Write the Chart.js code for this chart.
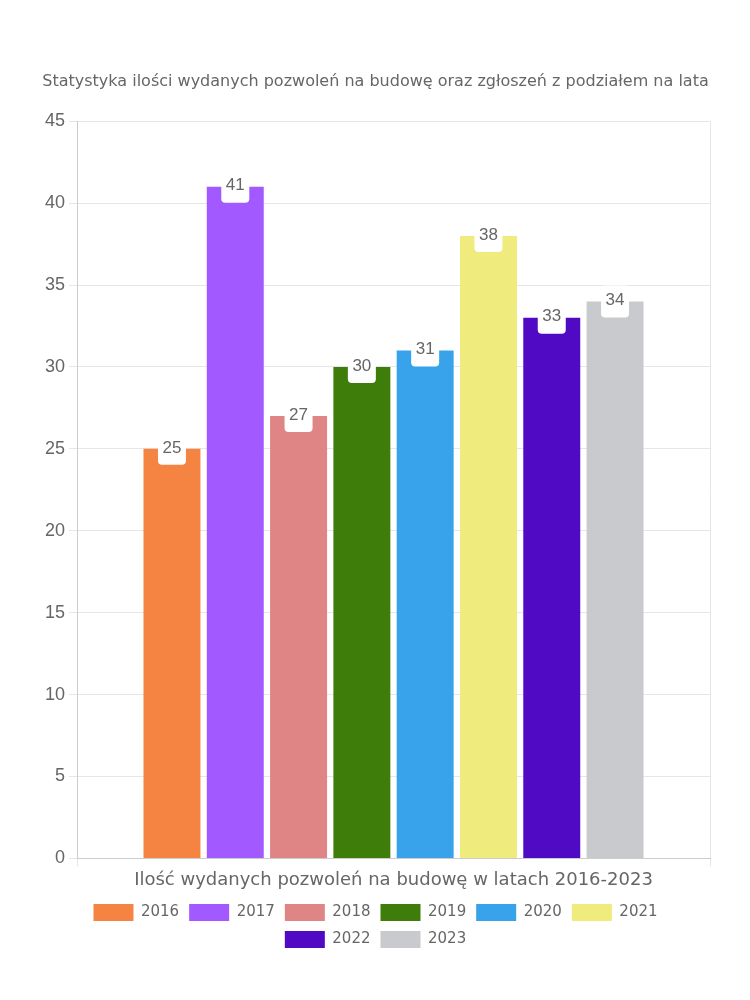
<!DOCTYPE html>
<html>
<head>
<meta charset="utf-8">
<script src="https://cdn.jsdelivr.net/npm/chart.js@4/dist/chart.umd.min.js"></script>
<style>
  body { margin: 0; background: #fff; }
  #wrap { width: 750px; height: 1000px; position: relative; }
</style>
</head>
<body>
<div id="wrap"><canvas id="permitChart"></canvas></div>
<script>
// dane wykresu
const categoryLabels = ['Ilość wydanych pozwoleń na budowę w latach 2016-2023'];
const years = ['2016', '2017', '2018', '2019', '2020', '2021', '2022', '2023'];
const permitCounts = [25, 41, 27, 30, 31, 38, 33, 34];
const yearColors = ['#F58442', '#A259FF', '#E08585', '#3F7D0B', '#38A3EB', '#F0EB7D', '#510AC4', '#C9CACE'];
const yTicks = [0, 5, 10, 15, 20, 25, 30, 35, 40, 45];

const roundFont = '"DejaVu Sans", sans-serif';
const plainFont = '"Liberation Sans", Arial, sans-serif';

// etykiety wartości na słupkach (biała ramka)
const valueLabels = {
    id: 'valueLabels',
    afterDatasetsDraw(chart) {
        const ctx = chart.ctx;
        ctx.save();
        chart.data.datasets.forEach((ds, i) => {
            const meta = chart.getDatasetMeta(i);
            if (meta.hidden) return;
            meta.data.forEach((bar, j) => {
                const text = String(ds.data[j]);
                const w = 28, h = 32, r = 4;
                const x = bar.x - w / 2, y = bar.y - h / 2;
                ctx.fillStyle = '#ffffff';
                ctx.beginPath();
                ctx.roundRect(x, y, w, h, r);
                ctx.fill();
                ctx.fillStyle = '#666666';
                ctx.font = '17px ' + plainFont;
                ctx.textAlign = 'center';
                ctx.textBaseline = 'middle';
                ctx.fillText(text, bar.x, bar.y - 1);
            });
        });
        ctx.restore();
    }
};

const datasets = years.map((year, i) => ({
    label: year,
    data: [permitCounts[i]],
    backgroundColor: yearColors[i],
    borderWidth: 0
}));

new Chart(document.getElementById('permitChart'), {
    type: 'bar',
    data: { labels: categoryLabels, datasets: datasets },
    options: {
        responsive: true,
        maintainAspectRatio: false,
        animation: false,
        layout: { padding: { left: 41, right: 40, top: 72, bottom: 42 } },
        scales: {
            y: {
                min: 0,
                max: 45,
                afterBuildTicks: axis => { axis.ticks = yTicks.map(v => ({ value: v })); },
                ticks: { color: '#666', font: { size: 18, family: plainFont }, padding: 4 },
                grid: { color: '#e6e6e6', tickLength: 8 },
                border: { color: '#cccccc' }
            },
            x: {
                ticks: { color: '#666', font: { size: 18, family: roundFont }, padding: 3 },
                grid: { color: '#e6e6e6', tickLength: 8 },
                border: { color: '#cccccc' }
            }
        },
        plugins: {
            title: {
                display: true,
                text: 'Statystyka ilości wydanych pozwoleń na budowę oraz zgłoszeń z podziałem na lata',
                color: '#666',
                font: { size: 16, family: roundFont, weight: 'normal' },
                padding: { top: 0, bottom: 30 }
            },
            legend: {
                position: 'bottom',
                labels: {
                    color: '#666',
                    boxWidth: 40,
                    boxHeight: 17,
                    font: { size: 15, family: roundFont },
                    padding: 10
                }
            },
            tooltip: { enabled: false }
        }
    },
    plugins: [valueLabels]
});
</script>
</body>
</html>
